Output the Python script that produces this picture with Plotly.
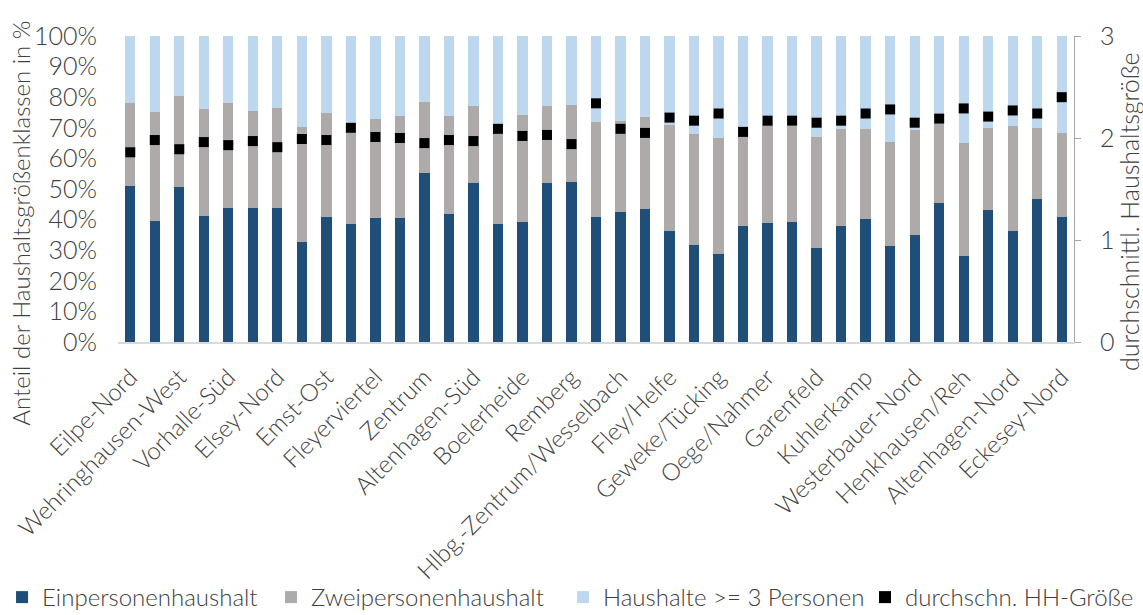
import plotly.graph_objects as go

districts = [
    "Eilpe-Nord", "Wehringhausen-Ost", "Wehringhausen-West", "Haspe-Zentrum",
    "Vorhalle-Süd", "Vorhalle-Nord", "Elsey-Nord", "Emst-West", "Emst-Ost",
    "Eckesey-Süd", "Fleyerviertel", "Boele/Kabel", "Zentrum", "Selbecke",
    "Altenhagen-Süd", "Eilpe-Süd", "Boelerheide", "Kückelhausen", "Remberg",
    "Halden/Herbeck", "Hlbg.-Zentrum/Wesselbach", "Spielbrink", "Fley/Helfe",
    "Dahl/Priorei/Rummenohl", "Geweke/Tücking", "Elsey-Süd", "Oege/Nahmer",
    "Westerbauer-Süd", "Garenfeld", "Hestert", "Kuhlerkamp", "Berchum",
    "Westerbauer-Nord", "Kabel/Bathey", "Henkhausen/Reh", "Holthausen",
    "Altenhagen-Nord", "Hochschulviertel", "Eckesey-Nord",
]

# share of one-person households (%)
einpersonen = [
    51.0, 39.5, 50.8, 41.1, 43.7, 43.7, 43.7, 32.8, 40.7, 38.6,
    40.5, 40.4, 55.2, 41.9, 52.0, 38.6, 39.3, 52.0, 52.2, 40.9,
    42.5, 43.4, 36.3, 31.6, 28.6, 37.8, 39.0, 39.3, 30.6, 37.8,
    40.1, 31.4, 35.0, 45.5, 28.1, 43.0, 36.3, 46.8, 40.9,
]
# share of two-person households (%)
zweipersonen = [
    27.2, 35.7, 29.5, 34.9, 34.3, 31.9, 32.9, 37.4, 34.2, 29.8,
    32.4, 33.4, 23.3, 31.9, 25.1, 29.6, 34.9, 25.1, 25.3, 30.9,
    29.6, 30.1, 34.7, 36.4, 38.1, 29.5, 31.8, 31.3, 36.5, 31.7,
    29.4, 33.8, 34.2, 25.8, 37.0, 26.9, 34.3, 23.1, 27.4,
]
# share of households with 3+ persons (%)
dreiplus = [round(100 - a - b, 1) for a, b in zip(einpersonen, zweipersonen)]
# average household size (persons)
hh_groesse = [
    1.86, 1.98, 1.89, 1.96, 1.93, 1.97, 1.91, 1.99, 1.98, 2.10,
    2.01, 2.00, 1.95, 1.98, 1.97, 2.09, 2.02, 2.03, 1.94, 2.34,
    2.09, 2.05, 2.20, 2.17, 2.24, 2.06, 2.17, 2.17, 2.15, 2.17,
    2.24, 2.28, 2.15, 2.19, 2.29, 2.21, 2.27, 2.24, 2.40,
]

shown_labels = districts[::2]

FONT = "Lato"
TXT = "#404040"
FS = 25
LFS = 24

fig = go.Figure()
fig.add_trace(go.Bar(x=districts, y=einpersonen, name="Einpersonenhaushalt",
                     legend="legend", legendwidth=224,
                     marker=dict(color="#1F4E79", line=dict(width=0))))
fig.add_trace(go.Bar(x=districts, y=zweipersonen, name="Zweipersonenhaushalt",
                     legend="legend", legendwidth=240,
                     marker=dict(color="#AEAAAA", line=dict(width=0))))
fig.add_trace(go.Bar(x=districts, y=dreiplus, name="Haushalte >= 3 Personen",
                     legend="legend2", legendwidth=257,
                     marker=dict(color="#BDD7EE", line=dict(width=0))))
fig.add_trace(go.Scatter(x=districts, y=hh_groesse, name="durchschn. HH-Größe",
                         legend="legend2", legendwidth=240,
                         mode="markers", yaxis="y2",
                         marker=dict(symbol="square", size=10, color="black")))

legend_common = dict(orientation="h", yref="paper", y=-0.835, yanchor="middle",
                     xanchor="left", bgcolor="rgba(0,0,0,0)",
                     font=dict(size=LFS, color=TXT, weight=300), traceorder="normal",
                     itemsizing="constant", itemwidth=30, tracegroupgap=0)

fig.update_layout(
    width=1143, height=615,
    barmode="stack", bargap=0.58,
    plot_bgcolor="white", paper_bgcolor="white",
    font=dict(family=FONT, size=FS, color=TXT, weight=300),
    margin=dict(l=118, r=69, t=36, b=273, autoexpand=False),
    showlegend=True,
    legend=dict(x=-0.1213, **legend_common),
    legend2=dict(x=0.4655, **legend_common),
    xaxis=dict(
        type="category", tickmode="array", tickvals=shown_labels, ticktext=shown_labels,
        range=[-0.5, len(districts) - 0.5], autorange=False,
        tickangle=-45, showgrid=False, showline=True, linecolor="#D9D9D9", linewidth=1.5,
        ticks="", ticklabelstandoff=10, tickfont=dict(size=24, color=TXT, weight=300),
        automargin=False,
    ),
    yaxis=dict(
        range=[0, 100], dtick=10, ticksuffix="%", showgrid=False, showline=False,
        ticks="", ticklabelstandoff=20, zeroline=False, automargin=False,
    ),
    yaxis2=dict(
        overlaying="y", side="right", range=[0, 3], dtick=1, showgrid=False,
        showline=True, linecolor="#A6A6A6", linewidth=1, ticks="outside", ticklen=6,
        tickcolor="#A6A6A6", ticklabelstandoff=14, zeroline=False, automargin=False,
    ),
    annotations=[
        dict(text="Anteil der Haushaltsgrößenklassen in %", textangle=-90,
             xref="paper", yref="paper", x=-0.1015, y=0.39,
             xanchor="center", yanchor="middle", showarrow=False,
             font=dict(size=24, color=TXT, weight=300)),
        dict(text="durchschnittl. Haushaltsgröße", textangle=-90,
             xref="paper", yref="paper", x=1.0575, y=0.425,
             xanchor="center", yanchor="middle", showarrow=False,
             font=dict(size=25, color=TXT, weight=300)),
    ],
)

fig.write_html("out.html", post_script="document.body.style.margin='0';",
               config={"displayModeBar": False})
